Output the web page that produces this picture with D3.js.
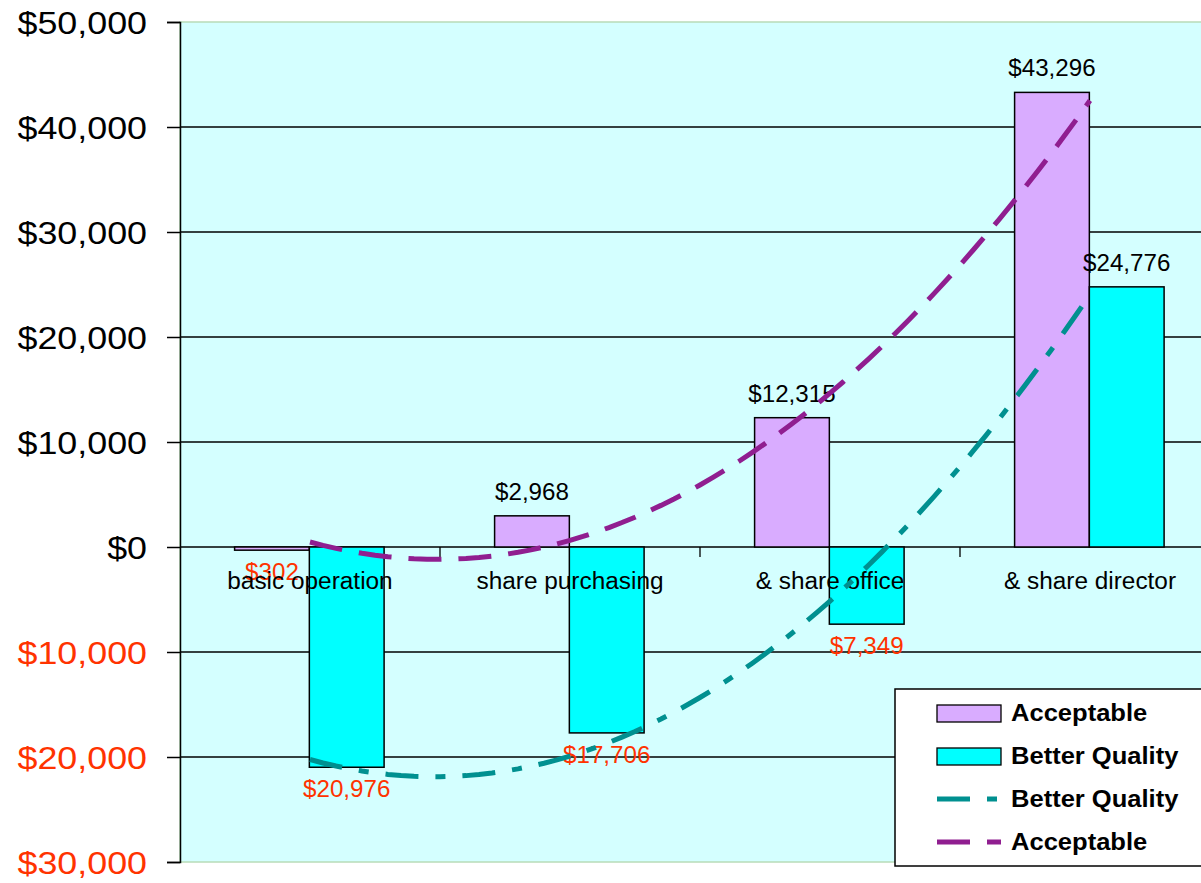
<!DOCTYPE html>
<html lang="en">
<head>
    <meta charset="UTF-8">
    <title>Cost comparison</title>
    <style>
        body { margin: 0; background: #fff; }
        text { font-family: Arial, "Liberation Sans", sans-serif; }
    </style>
</head>
<body>
<script src="https://d3js.org/d3.v7.min.js"></script>
<script>
    let w = 1201, h = 883;

    // data
    let categories = ["basic operation", "share purchasing", "& share office", "& share director"];
    let acceptable = [-302, 2968, 12315, 43296];
    let betterQuality = [-20976, -17706, -7349, 24776];
    let yTicks = [-30000, -20000, -10000, 0, 10000, 20000, 30000, 40000, 50000];
    let seriesNames = ["Acceptable", "Better Quality"];

    let plot = {left: 180, top: 22, right: 1220, bottom: 862};
    let negColor = "#ff3300";

    let svg = d3.select("body")
        .append("svg")
        .attr("width", w)
        .attr("height", h);

    // the original text is a little wider than the font draws it
    function stretch(sel, k) {
        sel.each(function () {
            let len = this.getComputedTextLength();
            d3.select(this).attr("textLength", len * k).attr("lengthAdjust", "spacingAndGlyphs");
        });
    }

    let y = d3.scaleLinear()
        .domain([-30000, 50000])
        .range([plot.bottom, plot.top]);

    let x0 = d3.scaleBand()
        .domain(categories)
        .range([plot.left, plot.right]);

    let bw = x0.bandwidth();
    let x1 = d3.scaleBand()
        .domain(seriesNames)
        .range([bw * 0.21, bw * 0.785]);

    let fmt = d3.format("$,.0f");
    let fmtAbs = v => fmt(Math.abs(v));

    // plot background
    svg.append("rect")
        .attr("x", plot.left)
        .attr("y", plot.top)
        .attr("width", plot.right - plot.left)
        .attr("height", plot.bottom - plot.top)
        .attr("fill", "#d4ffff")
        .attr("stroke", "#b8dcb8")
        .attr("stroke-width", 1.5);

    // gridlines
    svg.selectAll(".grid")
        .data(yTicks.filter(t => t !== -30000 && t !== 50000))
        .enter()
        .append("line")
        .attr("x1", plot.left)
        .attr("x2", plot.right)
        .attr("y1", d => y(d))
        .attr("y2", d => y(d))
        .attr("stroke", "#000")
        .attr("stroke-width", 1.3);

    // y axis
    let yAxis = d3.axisLeft(y)
        .tickValues(yTicks)
        .tickSize(13)
        .tickFormat(fmtAbs);
    let ya = svg.append("g")
        .attr("transform", "translate(" + plot.left + ",0)")
        .call(yAxis);
    ya.select(".domain").attr("stroke", "#000").attr("stroke-width", 1.5);
    ya.selectAll(".tick line").attr("stroke", "#000").attr("stroke-width", 1.5);
    ya.selectAll(".tick text")
        .attr("x", -33)
        .attr("dy", "0.36em")
        .style("font-size", "32px")
        .style("font-family", "Arial, 'Liberation Sans', sans-serif")
        .attr("fill", d => d < 0 ? negColor : "#000")
        .call(stretch, 1.12);

    // category ticks on zero line
    svg.selectAll(".ctick")
        .data(categories.slice(1))
        .enter()
        .append("line")
        .attr("x1", d => x0(d))
        .attr("x2", d => x0(d))
        .attr("y1", y(0))
        .attr("y2", y(0) + 10)
        .attr("stroke", "#000")
        .attr("stroke-width", 1.3);

    // bars
    let groups = svg.selectAll(".grp")
        .data(categories)
        .enter()
        .append("g")
        .attr("transform", d => "translate(" + x0(d) + ",0)");

    let barData = (c, i) => [
        {name: "Acceptable", value: acceptable[i], fill: "#d9acff"},
        {name: "Better Quality", value: betterQuality[i], fill: "#00ffff"}
    ];

    groups.selectAll("rect")
        .data(barData)
        .enter()
        .append("rect")
        .attr("x", d => x1(d.name))
        .attr("width", x1.bandwidth())
        .attr("y", d => y(Math.max(0, d.value)))
        .attr("height", d => Math.abs(y(d.value) - y(0)))
        .attr("fill", d => d.fill)
        .attr("stroke", "#000")
        .attr("stroke-width", 1.5);

    // category labels
    svg.selectAll(".clab")
        .data(categories)
        .enter()
        .append("text")
        .attr("x", d => x0(d) + bw / 2)
        .attr("y", y(0) + 42)
        .attr("text-anchor", "middle")
        .style("font-size", "23px")
        .attr("fill", "#000")
        .text(d => d)
        .call(stretch, 1.06);

    // trendlines (2nd order polynomial, least squares over the bar values)
    function polyFit(vals) {
        let xs = vals.map((v, i) => i + 1);
        let xm = d3.mean(xs), ym = d3.mean(vals);
        let p1 = xs.map(x => x - xm);
        let p2c = d3.mean(p1.map(v => v * v));
        let p2 = p1.map(v => v * v - p2c);
        let b1 = d3.sum(p1.map((p, i) => p * vals[i])) / d3.sum(p1.map(p => p * p));
        let b2 = d3.sum(p2.map((p, i) => p * vals[i])) / d3.sum(p2.map(p => p * p));
        return t => ym + b1 * (t - xm) + b2 * ((t - xm) * (t - xm) - p2c);
    }

    let xc = t => x0(categories[0]) + bw / 2 + (t - 1) * bw;
    let steps = d3.range(1, 4.001, 0.05);

    let trends = [
        {vals: betterQuality, color: "#009090", dash: "33,17,10,17"},
        {vals: acceptable, color: "#901e90", dash: "33,17"}
    ];

    trends.forEach(function (tr) {
        let f = polyFit(tr.vals);
        svg.append("path")
            .datum(steps)
            .attr("d", d3.line().x(t => xc(t)).y(t => y(f(t))))
            .attr("fill", "none")
            .attr("stroke", tr.color)
            .attr("stroke-width", 5)
            .attr("stroke-dasharray", tr.dash);
    });

    // value labels
    groups.selectAll(".vlab")
        .data(barData)
        .enter()
        .append("text")
        .attr("x", d => x1(d.name) + x1.bandwidth() / 2)
        .attr("y", d => d.value >= 0 ? y(d.value) - 16 : y(d.value) + 30)
        .attr("text-anchor", "middle")
        .style("font-size", "23px")
        .attr("fill", d => d.value < 0 ? negColor : "#000")
        .text(d => fmtAbs(d.value))
        .call(stretch, 1.05);

    // legend
    let lg = svg.append("g").attr("transform", "translate(895,689)");
    lg.append("rect")
        .attr("width", 330)
        .attr("height", 177)
        .attr("fill", "#fff")
        .attr("stroke", "#000")
        .attr("stroke-width", 1.5);

    let legendItems = [
        {label: "Acceptable", type: "box", color: "#d9acff"},
        {label: "Better Quality", type: "box", color: "#00ffff"},
        {label: "Better Quality", type: "line", color: "#009090", dash: "33,17,10,17"},
        {label: "Acceptable", type: "line", color: "#901e90", dash: "33,17"}
    ];

    let li = lg.selectAll(".li")
        .data(legendItems)
        .enter()
        .append("g")
        .attr("transform", (d, i) => "translate(0," + (24 + i * 43) + ")");

    li.filter(d => d.type === "box")
        .append("rect")
        .attr("x", 42)
        .attr("y", -8)
        .attr("width", 64)
        .attr("height", 17)
        .attr("fill", d => d.color)
        .attr("stroke", "#000")
        .attr("stroke-width", 1.3);

    li.filter(d => d.type === "line")
        .append("line")
        .attr("x1", 42)
        .attr("x2", 106)
        .attr("y1", 0)
        .attr("y2", 0)
        .attr("stroke", d => d.color)
        .attr("stroke-width", 5)
        .attr("stroke-dasharray", d => d.dash);

    li.append("text")
        .attr("x", 116)
        .attr("y", 0)
        .attr("dy", "0.36em")
        .style("font-size", "23px")
        .style("font-weight", "bold")
        .attr("fill", "#000")
        .text(d => d.label)
        .call(stretch, 1.11);
</script>
</body>
</html>
